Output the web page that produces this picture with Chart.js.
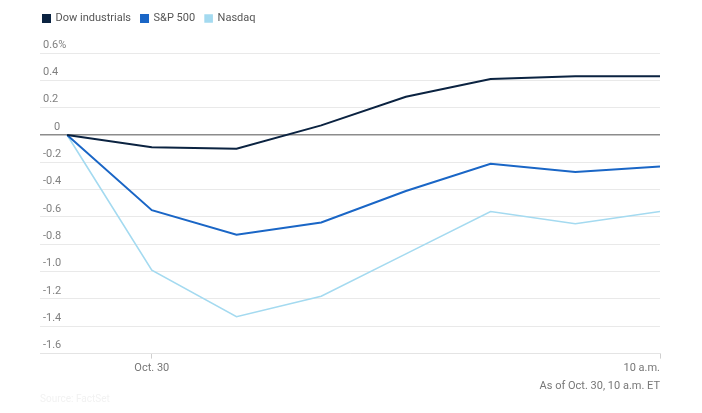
<!DOCTYPE html>
<html>
<head>
<meta charset="utf-8">
<script src="https://cdn.jsdelivr.net/npm/chart.js@4/dist/chart.umd.min.js"></script>
<style>
  html, body { margin: 0; padding: 0; background: #fff; }
  #wrap { width: 702px; height: 413px; }
</style>
</head>
<body>
<div id="wrap"><canvas id="chart"></canvas></div>
<script>
// data (percent change)
let steps = [0, 1, 2, 3, 4, 5, 6, 7]
let dow = [0, -0.09, -0.10, 0.07, 0.28, 0.41, 0.43, 0.43]
let sp500 = [0, -0.55, -0.73, -0.64, -0.41, -0.21, -0.27, -0.23]
let nasdaq = [0, -0.99, -1.33, -1.18, -0.87, -0.56, -0.65, -0.56]

let seriesNames = ["Dow industrials", "S&P 500", "Nasdaq"]
let yTicks = [0.6, 0.4, 0.2, 0, -0.2, -0.4, -0.6, -0.8, -1.0, -1.2, -1.4, -1.6]
let xTickLabels = { 1: "Oct. 30", 7: "10 a.m." }

let colors = ["#0b2341", "#1a66c6", "#a4daf0"]

function toPoints(values){
    return values.map((v, i) => ({ x: steps[i], y: v }))
}

const font = "Roboto"

// extra room under the legend, and nudge it left to line up with the y labels
const legendSpacing = {
    id: 'legendSpacing',
    beforeInit(chart){
        const fit = chart.legend.fit
        chart.legend.fit = function(){
            fit.bind(this)()
            this.height += 19
        }
    },
    afterLayout(chart){
        chart.legend.left -= 7
    }
}

new Chart(document.getElementById("chart"), {
    type: 'line',
    data: {
        datasets: [
            { label: seriesNames[0], data: toPoints(dow), borderColor: colors[0], backgroundColor: colors[0], borderWidth: 2 },
            { label: seriesNames[1], data: toPoints(sp500), borderColor: colors[1], backgroundColor: colors[1], borderWidth: 2 },
            { label: seriesNames[2], data: toPoints(nasdaq), borderColor: colors[2], backgroundColor: colors[2], borderWidth: 1.6 }
        ]
    },
    plugins: [legendSpacing],
    options: {
        responsive: true,
        maintainAspectRatio: false,
        animation: false,
        elements: { point: { radius: 0 }, line: { tension: 0 } },
        layout: { padding: { left: 40, right: 42, top: 3, bottom: 4 } },
        plugins: {
            tooltip: { enabled: false },
            legend: {
                position: 'top',
                align: 'start',
                labels: {
                    boxWidth: 7,
                    boxHeight: 7,
                    padding: 10,
                    color: '#555',
                    font: { family: font, size: 11 }
                }
            },
            subtitle: {
                display: true,
                position: 'bottom',
                align: 'start',
                text: 'Source: FactSet',
                color: '#f2f2f2',
                font: { family: font, size: 10 },
                padding: { top: 0, bottom: 4 }
            }
        },
        scales: {
            x: {
                type: 'linear',
                min: -0.32,
                max: 7,
                afterBuildTicks: s => { s.ticks = [{ value: -0.32 }, { value: 1 }, { value: 7 }] },
                grid: {
                    drawOnChartArea: false,
                    drawTicks: true,
                    tickLength: 5,
                    tickColor: ctx => (ctx.tick && ctx.tick.value > 0) ? '#cfcfcf' : 'rgba(0,0,0,0)'
                },
                border: { display: true, color: '#e4e4e4' },
                ticks: {
                    align: 'inner',
                    padding: 3,
                    color: '#777',
                    font: { family: font, size: 11 },
                    callback: v => xTickLabels[v] || ''
                },
                title: {
                    display: true,
                    align: 'end',
                    text: 'As of Oct. 30, 10 a.m. ET',
                    color: '#777',
                    font: { family: font, size: 11 },
                    padding: { top: 2, bottom: 0 }
                }
            },
            y: {
                min: -1.6,
                max: 0.6,
                afterBuildTicks: s => { s.ticks = yTicks.map(v => ({ value: v })) },
                afterFit: s => { s.width = 0 },
                grid: {
                    drawTicks: false,
                    color: ctx => (ctx.tick && ctx.tick.value === 0) ? '#8c8c8c' : '#e9e9e9',
                    lineWidth: ctx => (ctx.tick && ctx.tick.value === 0) ? 1.5 : 1
                },
                border: { display: false },
                ticks: {
                    mirror: true,
                    padding: 3,
                    labelOffset: -8,
                    color: '#808080',
                    font: { family: font, size: 11 },
                    callback: v => {
                        if (v === 0) return '    0'
                        if (v === 0.6) return '0.6%'
                        return v.toFixed(1)
                    }
                }
            }
        }
    }
});
</script>
</body>
</html>
